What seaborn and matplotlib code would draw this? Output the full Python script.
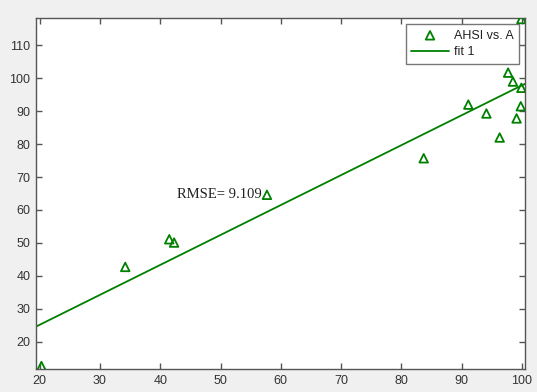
import numpy as np
import pandas as pd
import matplotlib
matplotlib.use("Agg")
import matplotlib.pyplot as plt
import seaborn as sns

# data
x_vals = [20.3, 34.2, 41.5, 42.3, 57.7, 83.7, 91.1, 94.1, 96.3, 97.7, 98.5, 99.1, 99.8, 99.9, 99.9]
y_vals = [12.6, 42.7, 51.1, 50.1, 64.6, 75.7, 92.0, 89.3, 82.0, 101.7, 99.0, 87.8, 91.5, 97.1, 118.0]
x_ticks = [20, 30, 40, 50, 60, 70, 80, 90, 100]
y_ticks = [20, 30, 40, 50, 60, 70, 80, 90, 100, 110]
series_name = "AHSI vs. A"
fit_name = "fit 1"
rmse_label = "RMSE= 9.109"

sns.set_style("white")
plt.rcParams['font.family'] = ['Liberation Sans', 'DejaVu Sans']

green = (0, 0.5, 0)
fig = plt.figure(figsize=(5.37, 3.92), dpi=100, facecolor='#f0f0f0')
ax = fig.add_axes([36/537, 1-369/392, (525-36)/537, (369-18)/392])

xlim = (19.4, 100.5)
ylim = (11.7, 118.3)

df = pd.DataFrame({"x": x_vals, "y": y_vals})
coef = np.polyfit(df["x"], df["y"], 1)
fx = np.array(xlim)
fit_df = pd.DataFrame({"x": fx, "y": np.polyval(coef, fx)})

sns.scatterplot(data=df, x="x", y="y", marker="^", s=38, facecolor='none',
                edgecolor=green, linewidth=1.3, ax=ax, label=series_name, zorder=3)
sns.lineplot(data=fit_df, x="x", y="y", color=green, linewidth=1.3, ax=ax, label=fit_name)

ax.set_xlim(*xlim)
ax.set_ylim(*ylim)
ax.set_xticks(x_ticks)
ax.set_yticks(y_ticks)
ax.set_xlabel("")
ax.set_ylabel("")
ax.tick_params(direction='in', length=4, width=1, color='#555555', labelsize=9,
               labelcolor='#333333', top=True, right=True, bottom=True, left=True,
               labeltop=False, labelright=False, pad=4)
for s in ax.spines.values():
    s.set_color('#555555')
    s.set_linewidth(1.0)

ax.text(56.9, 64.7, rmse_label, ha='right', va='center', fontsize=10.5,
        family=['Liberation Serif'], color='#222222')

leg = ax.legend(loc='upper right', fontsize=9, frameon=True, fancybox=False,
                edgecolor='#555555', borderpad=0.45, handlelength=3.0,
                handletextpad=0.4, labelspacing=0.35, borderaxespad=0,
                bbox_to_anchor=(0.988, 0.983))
leg.get_frame().set_linewidth(1.0)
for t in leg.get_texts():
    t.set_color('#222222')

fig.savefig("out.png", dpi=100, facecolor=fig.get_facecolor())
